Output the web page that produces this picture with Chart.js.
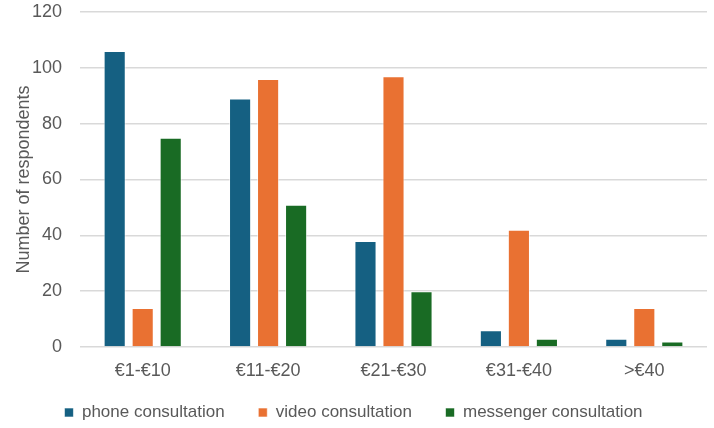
<!DOCTYPE html>
<html lang="en">
<head>
  <meta charset="UTF-8" />
  <title>Number of respondents</title>
  <script src="https://cdn.jsdelivr.net/npm/chart.js"></script>
  <style>
    html, body { margin: 0; padding: 0; background: #fff; }
    .wrap { width: 714px; height: 428px; position: relative; }
  </style>
</head>
<body>
  <div class="wrap"><canvas id="chart"></canvas></div>

  <script>
    const categories = ['€1-€10', '€11-€20', '€21-€30', '€31-€40', '>€40'];
    const phone = [106, 89, 38, 6, 3];
    const video = [14, 96, 97, 42, 14];
    const messenger = [75, 51, 20, 3, 2];
    const yTicks = [0, 20, 40, 60, 80, 100, 120];

    const font = "'Liberation Sans', 'DejaVu Sans', sans-serif";
    const grey = '#595959';

    const bar = (label, data, color) => ({
      label,
      data,
      backgroundColor: color,
      borderColor: 'rgba(255,255,255,0.6)',
      borderWidth: 1,
      categoryPercentage: 0.67,
      barPercentage: 0.79
    });

    new Chart(document.getElementById('chart'), {
      type: 'bar',
      data: {
        labels: categories,
        datasets: [
          bar('phone consultation', phone, '#156082'),
          bar('video consultation', video, '#E97132'),
          bar('messenger consultation', messenger, '#196B24')
        ]
      },
      options: {
        responsive: true,
        maintainAspectRatio: false,
        animation: false,
        layout: { padding: { top: 12, right: 7, left: 0, bottom: -3 } },
        plugins: {
          legend: {
            position: 'bottom',
            labels: {
              font: { family: font, size: 17 },
              color: grey,
              boxWidth: 9,
              boxHeight: 9,
              padding: 10,
              generateLabels: chart => {
                const items = Chart.defaults.plugins.legend.labels.generateLabels(chart);
                // extra room between entries, like the original legend
                items.forEach((it, i) => {
                  if (i < items.length - 1) it.text += '     ';
                });
                return items;
              }
            }
          },
          tooltip: { enabled: false }
        },
        scales: {
          x: {
            afterFit: axis => { axis.height = 47; },
            grid: { display: false, drawTicks: false },
            border: { display: false },
            ticks: { font: { family: font, size: 18 }, color: grey, padding: 13 }
          },
          y: {
            min: 0,
            max: 120,
            afterBuildTicks: axis => { axis.ticks = yTicks.map(v => ({ value: v })); },
            afterFit: axis => {
              axis.width = 80;
              axis.paddingTop = 0;
              axis.paddingBottom = 0;
            },
            grid: { color: '#d9d9d9', lineWidth: 1.5, drawTicks: false },
            border: { display: false },
            ticks: { font: { family: font, size: 18 }, color: grey, padding: 18 },
            title: {
              display: true,
              text: 'Number of respondents',
              font: { family: font, size: 18 },
              color: grey,
              padding: { top: 13, bottom: 0 }
            }
          }
        }
      }
    });
  </script>
</body>
</html>
